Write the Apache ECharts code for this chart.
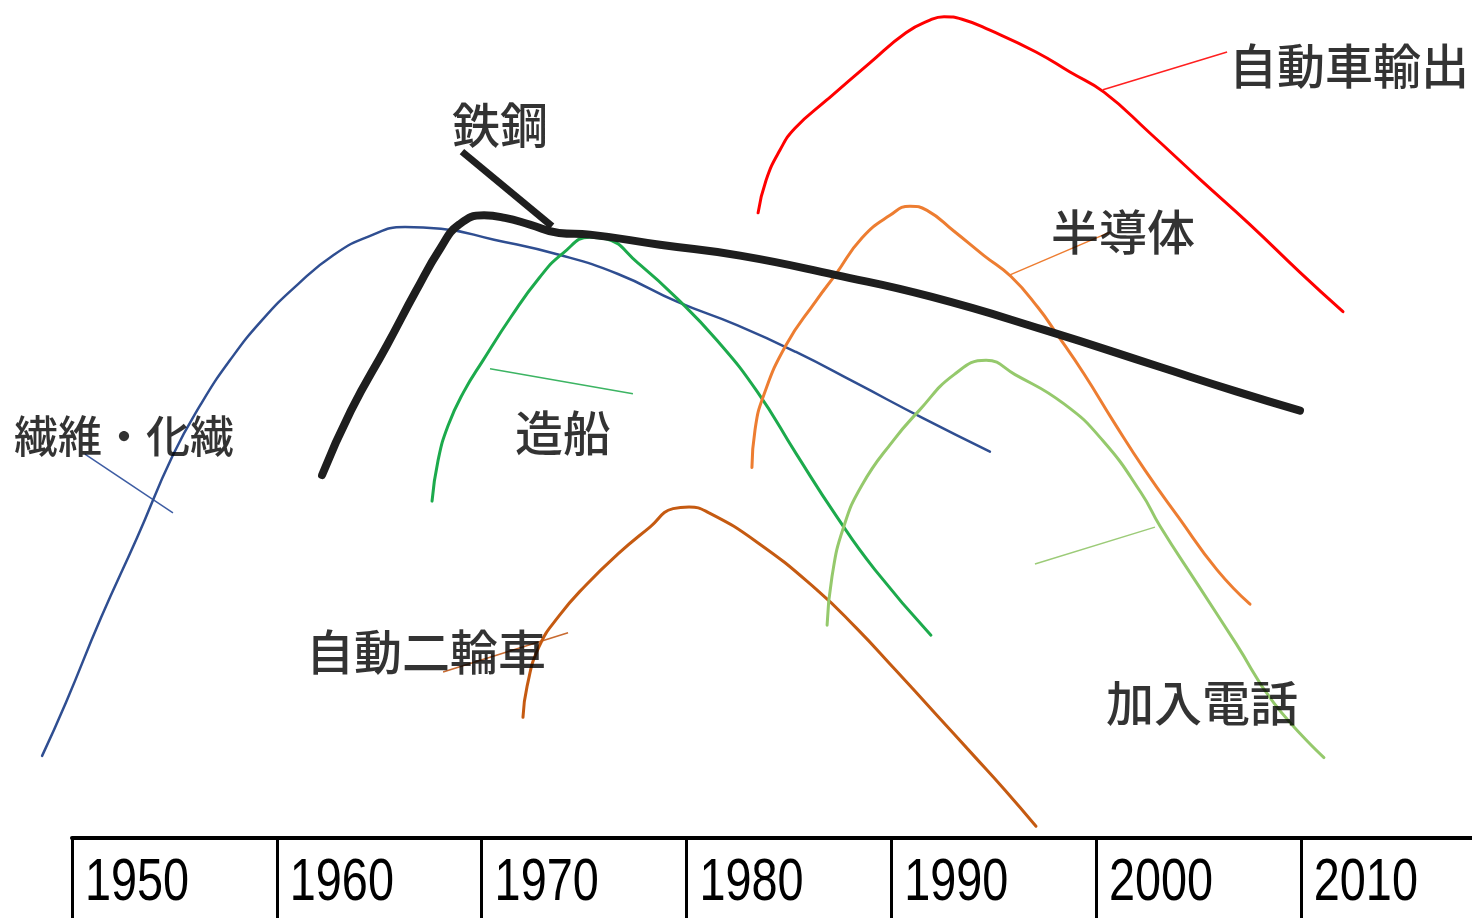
<!DOCTYPE html>
<html>
<head>
<meta charset="utf-8">
<script src="https://cdn.jsdelivr.net/npm/echarts@6/dist/echarts.min.js"></script>
<style>
  html, body { margin: 0; padding: 0; background: #fff; }
  #chart { width: 1472px; height: 918px; }
</style>
</head>
<body>
<div id="chart"></div>
<script>
// Decades shown in the year table along the bottom
const decades = [1950, 1960, 1970, 1980, 1990, 2000, 2010];

// Life-cycle curves: [year, relative level 0-100]
const textileData = [
  [1948.54, 9.8], [1949.71, 16.2], [1951.42, 26.3], [1953.17, 35.8], [1954.93, 45.7],
  [1956.30, 51.8], [1957.71, 57.0], [1959.28, 61.8], [1961.04, 66.1], [1962.79, 69.6],
  [1964.50, 71.8], [1966.26, 72.9], [1968.02, 72.7], [1970.61, 71.4], [1973.78, 69.6],
  [1976.66, 67.3], [1979.54, 64.0], [1982.47, 61.2], [1985.35, 58.0], [1988.28, 54.3],
  [1991.55, 50.1], [1994.82, 46.1]
];
const steelData = [
  [1962.21, 43.3], [1963.62, 51.0], [1965.38, 58.8], [1966.80, 65.3], [1968.02, 70.5],
  [1968.90, 73.2], [1970.12, 74.3], [1971.14, 74.0], [1972.36, 73.2], [1973.78, 72.2],
  [1975.29, 72.0], [1978.71, 70.8], [1982.62, 69.5], [1987.26, 67.2], [1991.94, 64.6],
  [1997.51, 60.6], [2003.13, 56.2], [2006.84, 53.3], [2009.96, 51.0]
];
const shipData = [
  [1967.58, 40.2], [1967.87, 45.0], [1968.36, 49.2], [1969.14, 53.3], [1970.07, 57.0],
  [1971.44, 62.2], [1972.80, 66.8], [1973.98, 69.8], [1975.29, 71.7], [1976.07, 71.5],
  [1977.64, 68.6], [1979.54, 64.4], [1981.49, 59.4], [1983.45, 53.3], [1985.35, 45.9],
  [1987.30, 38.5], [1989.21, 32.0], [1991.94, 24.2]
];
const motorcycleData = [
  [1972.02, 14.4], [1972.22, 18.1], [1972.80, 22.8], [1973.78, 26.5], [1975.10, 30.2],
  [1976.66, 33.9], [1978.22, 37.1], [1979.35, 39.3], [1980.13, 39.5], [1981.10, 38.8],
  [1983.45, 35.3], [1986.33, 29.7], [1988.28, 25.1], [1990.19, 20.1], [1992.14, 14.9],
  [1994.04, 9.8], [1995.56, 5.7], [1997.07, 1.4]
];
const carExportData = [
  [1983.50, 74.6], [1983.89, 78.5], [1984.57, 82.1], [1985.30, 84.7], [1986.87, 88.1],
  [1988.96, 92.5], [1990.72, 96.1], [1991.89, 97.6], [1992.58, 98.0], [1993.46, 97.7],
  [1994.82, 96.4], [1997.07, 93.8], [1998.73, 91.4], [2000.39, 89.0], [2002.64, 84.1],
  [2005.08, 78.6], [2007.52, 73.2], [2009.96, 67.5], [2012.06, 62.8]
];
const semiconductorData = [
  [1983.20, 44.2], [1983.35, 48.7], [1983.74, 52.6], [1984.86, 58.8], [1986.33, 64.1],
  [1987.30, 67.3], [1988.57, 71.6], [1989.94, 74.3], [1990.92, 75.4], [1991.75, 74.9],
  [1993.07, 72.4], [1994.53, 69.5], [1995.85, 67.0], [1997.17, 63.3], [1998.10, 60.1],
  [1999.41, 55.4], [2000.88, 49.6], [2002.39, 43.9], [2004.05, 38.2], [2005.91, 32.0],
  [2007.52, 27.9]
];
const telephoneData = [
  [1986.87, 25.4], [1987.11, 31.2], [1987.65, 36.9], [1988.57, 42.1], [1990.09, 47.4],
  [1991.36, 51.0], [1993.07, 55.3], [1994.63, 57.0], [1996.05, 55.3], [1998.44, 51.8],
  [2000.34, 47.4], [2002.20, 41.2], [2003.13, 37.2], [2004.98, 30.2], [2006.84, 23.2],
  [2008.69, 16.1], [2011.13, 9.6]
];

// Leader lines joining each name to its curve
const textileLeader = [[1950.63, 45.8], [1954.93, 38.8]];
const steelLeader = [[1969.04, 81.9], [1973.44, 73.0]];
const shipLeader = [[1970.41, 56.0], [1977.39, 53.0]];
const motorcycleLeader = [[1968.12, 19.8], [1974.22, 24.5]];
const carExportLeader = [[2000.34, 89.3], [2006.40, 93.8]];
const semiconductorLeader = [[1995.80, 67.2], [2000.68, 72.3]];
const telephoneLeader = [[1997.02, 32.7], [2002.88, 37.1]];

// Industry names and where each is written
const industryNames = ['繊維・化繊', '鉄鋼', '造船', '自動二輪車', '自動車輸出', '半導体', '加入電話'];
const namePositions = [
  [1952.54, 47.9], [1970.90, 85.1], [1973.97, 48.3], [1967.29, 22.2],
  [2012.35, 92.2], [2001.32, 72.3], [2005.18, 16.1]
];

// Horizontal scale: one decade = 204.8 px; the plot area starts one decade
// before 1950 so curves that begin in the late 1940s are still drawn.
const decadePx = 204.8;
const tableLeft = 72;
const nameFontSize = 48;
// the textile name carries a middle dot, so it is set a little tighter
const nameFontOverride = { '繊維・化繊': 44 };

function curve(data, color, width) {
  return {
    type: 'line', data: data, smooth: 0.5, showSymbol: false, clip: false,
    xAxisIndex: 0, yAxisIndex: 0,
    lineStyle: { color: color, width: width, cap: 'round', join: 'round' },
    silent: true, z: 3
  };
}
function leader(data, color, width) {
  return {
    type: 'line', data: data, smooth: false, showSymbol: false, clip: false,
    xAxisIndex: 0, yAxisIndex: 0,
    lineStyle: { color: color, width: width }, silent: true, z: 2
  };
}

const chart = echarts.init(document.getElementById('chart'), null, { renderer: 'canvas' });
chart.setOption({
  animation: false,
  backgroundColor: '#ffffff',
  grid: [
    { left: tableLeft - decadePx, width: decadePx * 8, top: 0, bottom: 80, outerBoundsMode: 'none', containLabel: false },
    { left: tableLeft, width: decadePx * 7, top: 0, bottom: 80, outerBoundsMode: 'none', containLabel: false }
  ],
  xAxis: [
    { type: 'value', gridIndex: 0, min: 1940, max: 2020, show: false },
    {
      type: 'value', gridIndex: 1, min: decades[0], max: 2020, interval: 10,
      axisLine: { show: true, lineStyle: { color: '#000', width: 4 } },
      axisTick: { show: true, inside: false, length: 82, lineStyle: { color: '#000', width: 3 } },
      splitLine: { show: false },
      axisLabel: { show: false }
    }
  ],
  yAxis: [
    { type: 'value', gridIndex: 0, min: 0, max: 100, show: false },
    { type: 'value', gridIndex: 1, min: 0, max: 100, show: false }
  ],
  series: [
    curve(textileData, '#2F4E91', 2.5),
    curve(shipData, '#1CAA4C', 3),
    curve(motorcycleData, '#C55A11', 3),
    curve(semiconductorData, '#ED7D31', 3),
    curve(telephoneData, '#95C96C', 3),
    curve(carExportData, '#FF0000', 3),
    curve(steelData, '#1E1E1E', 8),
    leader(textileLeader, '#3D5CA3', 1.5),
    leader(steelLeader, '#1E1E1E', 7),
    leader(shipLeader, '#3CB463', 1.5),
    leader(motorcycleLeader, '#C86A30', 1.5),
    leader(carExportLeader, '#FF2020', 1.5),
    leader(semiconductorLeader, '#ED7D31', 1.5),
    leader(telephoneLeader, '#9CCB78', 1.5),
    {
      type: 'scatter', symbolSize: 0, clip: false, silent: true, z: 5,
      xAxisIndex: 0, yAxisIndex: 0,
      data: industryNames.map(function (n, i) {
        return {
          name: n, value: namePositions[i],
          label: { fontSize: nameFontOverride[n] || nameFontSize }
        };
      }),
      label: {
        show: true, position: 'inside', formatter: '{b}',
        fontFamily: '"Noto Sans CJK JP", "Noto Sans", sans-serif',
        fontSize: nameFontSize, fontWeight: 500, color: '#000'
      },
      labelLayout: { hideOverlap: false }
    }
  ]
});

// Year labels in the table cells: placed from the table axis scale, in a condensed face
const axisY = chart.convertToPixel({ yAxisIndex: 1 }, 0);
chart.setOption({
  graphic: decades.map(function (year) {
    const px = chart.convertToPixel({ xAxisIndex: 1 }, year);
    return {
      type: 'text', silent: true, z: 10,
      x: px + 13, y: axisY + 45, scaleX: 0.78,
      style: {
        text: String(year),
        font: '60px "Liberation Sans", Arial, sans-serif',
        fill: '#000', textAlign: 'left', textVerticalAlign: 'middle'
      }
    };
  })
});
</script>
</body>
</html>
